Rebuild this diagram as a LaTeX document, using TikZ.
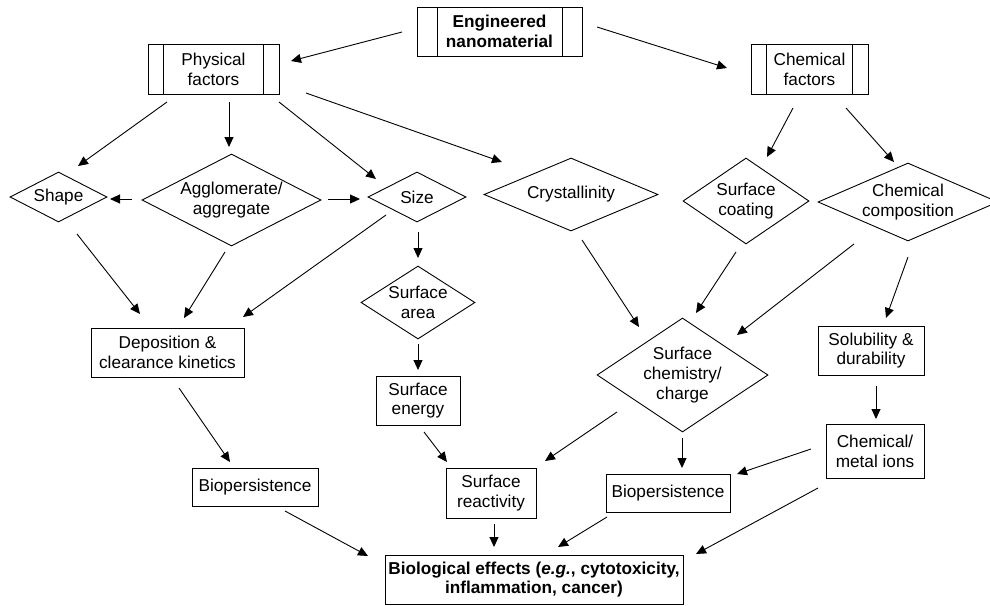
\documentclass[tikz,border=0pt]{standalone}
\usepackage{fontspec}
\setmainfont{Liberation Sans}
\usetikzlibrary{shapes.geometric,arrows.meta}
\begin{document}
\begin{tikzpicture}[x=1pt,y=-1pt,
  every node/.style={font=\fontsize{17.2pt}{19.8pt}\selectfont, align=center, inner sep=0pt},
  box/.style={draw, line width=0.9pt, rectangle, minimum width=#1},
  proc/.style={box=#1, path picture={
     \draw[line width=0.9pt] ([xshift=\procoff]path picture bounding box.north west) -- ([xshift=\procoff]path picture bounding box.south west);
     \draw[line width=0.9pt] ([xshift=-\procoff]path picture bounding box.north east) -- ([xshift=-\procoff]path picture bounding box.south east);}},
  dia/.style args={#1x#2x#3}{draw, line width=0.9pt, diamond, minimum width=#1pt, minimum height=#2pt, aspect=#3},
  arr/.style={line width=0.9pt, -{Triangle[length=10pt,width=9pt]}}
]
\useasboundingbox (0,0) rectangle (990,605);
\def\procoff{20pt}
\node[proc=165pt, minimum height=49pt, font=\fontsize{17.2pt}{19.8pt}\selectfont\bfseries] (eng) at (499.5,31.5) {Engineered\\nanomaterial};
\def\procoff{15.5pt}
\node[proc=131pt, minimum height=50pt] (phys) at (213.5,69) {Physical\\factors};
\node[proc=117pt, minimum height=50pt] (chem) at (809.5,69) {Chemical\\factors};

\node[dia=97x50x1.94] (shape) at (58.5,197) {Shape};
\node[dia=179x92x1.946] (agg) at (231.5,200) {Agglomerate/\\aggregate};
\node[dia=98x50x1.96] (size) at (417,197) {Size};
\node[dia=174x73x2.384] (cryst) at (571,194.5) {Crystallinity};
\node[dia=126x86x1.465] (coat) at (746,201) {Surface\\coating};
\node[dia=180x78x2.308] (comp) at (908,202) {Chemical\\composition};

\node[box=153pt, minimum height=49pt] (dep) at (167.5,352.5) {Deposition \&\\clearance kinetics};
\node[dia=114x73x1.562] (area) at (418,302.5) {Surface\\area};
\node[box=84pt, minimum height=49pt] (energy) at (418,400.5) {Surface\\energy};
\node[dia=171x114x1.5] (schem) at (682.5,375) {Surface\\chemistry/\\charge};
\node[box=106pt, minimum height=49pt] (solub) at (871,350.5) {Solubility \&\\durability};
\node[box=98pt, minimum height=54pt] (ions) at (875,451) {Chemical/\\metal ions};

\node[box=126pt, minimum height=38pt] (bioL) at (255,487) {Biopersistence};
\node[box=90pt, minimum height=50pt] (react) at (491,493) {Surface\\reactivity};
\node[box=124pt, minimum height=38pt] (bioR) at (668,493) {Biopersistence};
\node[box=298pt, minimum height=49pt, font=\fontsize{17.2pt}{19.8pt}\selectfont\bfseries] (effects) at (534,579.5) {Biological effects (\textit{e.g.}, cytotoxicity,\\inflammation, cancer)};

\draw[arr] ([shift={(-97.5,0.5)}]eng.center) -- ([shift={(77.5,-8)}]phys.center);
\draw[arr] ([shift={(97.5,-4.5)}]eng.center) -- ([shift={(-82.5,-1)}]chem.center);
\draw[arr] ([shift={(-46.5,33)}]phys.center) -- ([shift={(19.5,-31)}]shape.center);
\draw[arr] ([shift={(15.5,33)}]phys.center) -- ([shift={(-2.5,-53)}]agg.center);
\draw[arr] ([shift={(65.5,33)}]phys.center) -- ([shift={(-41,-18)}]size.center);
\draw[arr] ([shift={(92.5,24)}]phys.center) -- ([shift={(-69,-32.5)}]cryst.center);
\draw[arr] ([shift={(-99.5,-1)}]agg.center) -- ([shift={(51.5,2)}]shape.center);
\draw[arr] ([shift={(96.5,-1)}]agg.center) -- ([shift={(-57,2)}]size.center);
\draw[arr] ([shift={(1,35)}]size.center) -- ([shift={(0,-44.5)}]area.center);
\draw[arr] ([shift={(-31,18)}]size.center) -- ([shift={(75.5,-35.5)}]dep.center);
\draw[arr] ([shift={(18.5,37)}]shape.center) -- ([shift={(-27.5,-38.5)}]dep.center);
\draw[arr] ([shift={(-6.5,52)}]agg.center) -- ([shift={(16.5,-34.5)}]dep.center);
\draw[arr] ([shift={(0,41.5)}]area.center) -- ([shift={(0,-30.5)}]energy.center);
\draw[arr] ([shift={(11.5,35.5)}]dep.center) -- ([shift={(-25,-25)}]bioL.center);
\draw[arr] ([shift={(6,31.5)}]energy.center) -- ([shift={(-44,-31)}]react.center);
\draw[arr] ([shift={(30,24)}]bioL.center) -- ([shift={(-166,-23.5)}]effects.center);
\draw[arr] ([shift={(3,31)}]react.center) -- ([shift={(-40,-32.5)}]effects.center);
\draw[arr] ([shift={(11,45.5)}]cryst.center) -- ([shift={(-43.5,-48)}]schem.center);
\draw[arr] ([shift={(-10,51)}]coat.center) -- ([shift={(13.5,-62)}]schem.center);
\draw[arr] ([shift={(-54,42)}]comp.center) -- ([shift={(54.5,-40)}]schem.center);
\draw[arr] ([shift={(0,55)}]comp.center) -- ([shift={(15,-32.5)}]solub.center);
\draw[arr] ([shift={(-16.5,39)}]chem.center) -- ([shift={(21,-44)}]coat.center);
\draw[arr] ([shift={(36.5,39)}]chem.center) -- ([shift={(-14,-40)}]comp.center);
\draw[arr] ([shift={(-65.5,37)}]schem.center) -- ([shift={(54,-32)}]react.center);
\draw[arr] ([shift={(-0.5,63)}]schem.center) -- ([shift={(14,-25)}]bioR.center);
\draw[arr] ([shift={(5,35.5)}]solub.center) -- ([shift={(1,-32)}]ions.center);
\draw[arr] ([shift={(-64,-2)}]ions.center) -- ([shift={(69,-19)}]bioR.center);
\draw[arr] ([shift={(-57,37)}]ions.center) -- ([shift={(162,-25.5)}]effects.center);
\draw[arr] ([shift={(-61,24)}]bioR.center) -- ([shift={(24,-32.5)}]effects.center);
\end{tikzpicture}
\end{document}
